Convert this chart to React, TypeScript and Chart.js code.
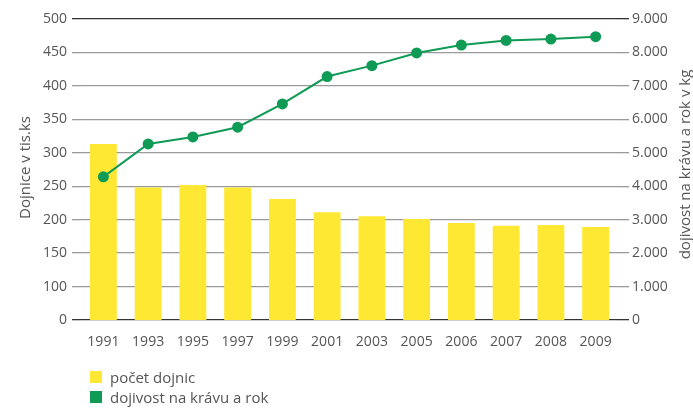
import React, { useEffect, useRef } from "react";
import { Chart, registerables } from "chart.js";

Chart.register(...registerables);

const years = ["1991", "1993", "1995", "1997", "1999", "2001", "2003", "2005", "2006", "2007", "2008", "2009"];
const cows = [313, 248, 252, 248, 231, 211, 205, 201, 195, 191, 192, 189];
const milkYield = [4280, 5265, 5475, 5765, 6460, 7280, 7605, 7985, 8220, 8360, 8400, 8470];
const leftTicks = [50, 100, 150, 200, 250, 300, 350, 400, 450, 500];
const leftTickLabels = ["0", "100", "150", "200", "250", "300", "350", "400", "450", "500"];
const seriesLabels = ["počet dojnic", "dojivost na krávu a rok"];
const leftTitle = "Dojnice v tis.ks";
const rightTitle = "dojivost na krávu a rok v kg";

const YELLOW = "#ffe833";
const GREEN = "#0f9a55";
const FONT = "'Open Sans', sans-serif";
const GRID = "#9a9a9a";
const DARK = "#333333";
const TEXT = "#555555";

const axisTitles = {
  id: "axisTitles",
  afterDraw(chart: any) {
    const { ctx, chartArea } = chart;
    const cy = (chartArea.top + chartArea.bottom) / 2;
    ctx.save();
    ctx.fillStyle = TEXT;
    ctx.font = `15px ${FONT}`;
    ctx.textAlign = "center";
    ctx.textBaseline = "middle";
    const draw = (text: string, x: number, y: number) => {
      ctx.save();
      ctx.translate(x, y);
      ctx.rotate(-Math.PI / 2);
      ctx.fillText(text, 0, 0);
      ctx.restore();
    };
    draw(leftTitle, 26, cy - 2);
    draw(rightTitle, chart.width - 7, cy - 5);
    ctx.restore();
  },
};

export default function App() {
  const ref = useRef<HTMLCanvasElement | null>(null);

  useEffect(() => {
    document.body.style.margin = "0";
    const canvas = ref.current;
    if (!canvas) return;
    const lineColor = (ctx: any) =>
      ctx.index === 0 || ctx.index === 9 ? DARK : GRID;
    const chart = new Chart(canvas, {
      data: {
        labels: years,
        datasets: [
          {
            type: "line",
            label: seriesLabels[1],
            data: milkYield,
            yAxisID: "y2",
            borderColor: GREEN,
            backgroundColor: GREEN,
            borderWidth: 2,
            pointRadius: 5.5,
            pointBackgroundColor: GREEN,
            pointBorderWidth: 0,
            order: 0,
          },
          {
            type: "bar",
            label: seriesLabels[0],
            data: cows,
            yAxisID: "y",
            backgroundColor: YELLOW,
            barPercentage: 0.6,
            categoryPercentage: 1,
            order: 1,
          },
        ],
      } as any,
      options: {
        animation: false,
        responsive: false,
        maintainAspectRatio: false,
        layout: { padding: { top: 19, bottom: 0, left: 0, right: 0 } },
        plugins: { legend: { display: false }, tooltip: { enabled: false } },
        scales: {
          x: {
            grid: { display: false },
            border: { display: false },
            ticks: { color: TEXT, font: { family: FONT, size: 14 }, padding: 6, maxRotation: 0 },
            afterFit: (s: any) => { s.height = 89; },
          },
          y: {
            position: "left",
            min: 50,
            max: 500,
            afterBuildTicks: (s: any) => { s.ticks = leftTicks.map((v) => ({ value: v })); },
            ticks: {
              color: TEXT,
              font: { family: FONT, size: 14 },
              padding: 5,
              callback: (v: any) => leftTickLabels[leftTicks.indexOf(Number(v))] ?? String(v),
            },
            grid: { color: lineColor, tickColor: lineColor, tickLength: 9, lineWidth: 1.3 },
            border: { display: false },
            afterFit: (s: any) => { s.width = 81; },
          },
          y2: {
            position: "right",
            min: 0,
            max: 9000,
            ticks: {
              stepSize: 1000,
              color: TEXT,
              font: { family: FONT, size: 14 },
              padding: 3,
              callback: (v: any) => Number(v).toLocaleString("de-DE"),
            },
            grid: { drawOnChartArea: false, tickColor: lineColor, tickLength: 11, lineWidth: 1.3 },
            border: { display: false },
            afterFit: (s: any) => { s.width = 75; },
          },
        },
      } as any,
      plugins: [axisTitles],
    });
    return () => chart.destroy();
  }, []);

  return (
    <div style={{ position: "relative", width: 693, height: 409 }}>
      <canvas ref={ref} width={693} height={409} style={{ display: "block" }} />
      <div style={{ position: "absolute", left: 90, top: 367, fontFamily: FONT, fontSize: 15, color: TEXT, lineHeight: "20px" }}>
        {seriesLabels.map((l, i) => (
          <div key={l} style={{ display: "flex", alignItems: "center" }}>
            <span style={{ display: "inline-block", width: 12, height: 12, background: i === 0 ? YELLOW : GREEN, marginRight: 8 }} />
            <span>{l}</span>
          </div>
        ))}
      </div>
    </div>
  );
}
